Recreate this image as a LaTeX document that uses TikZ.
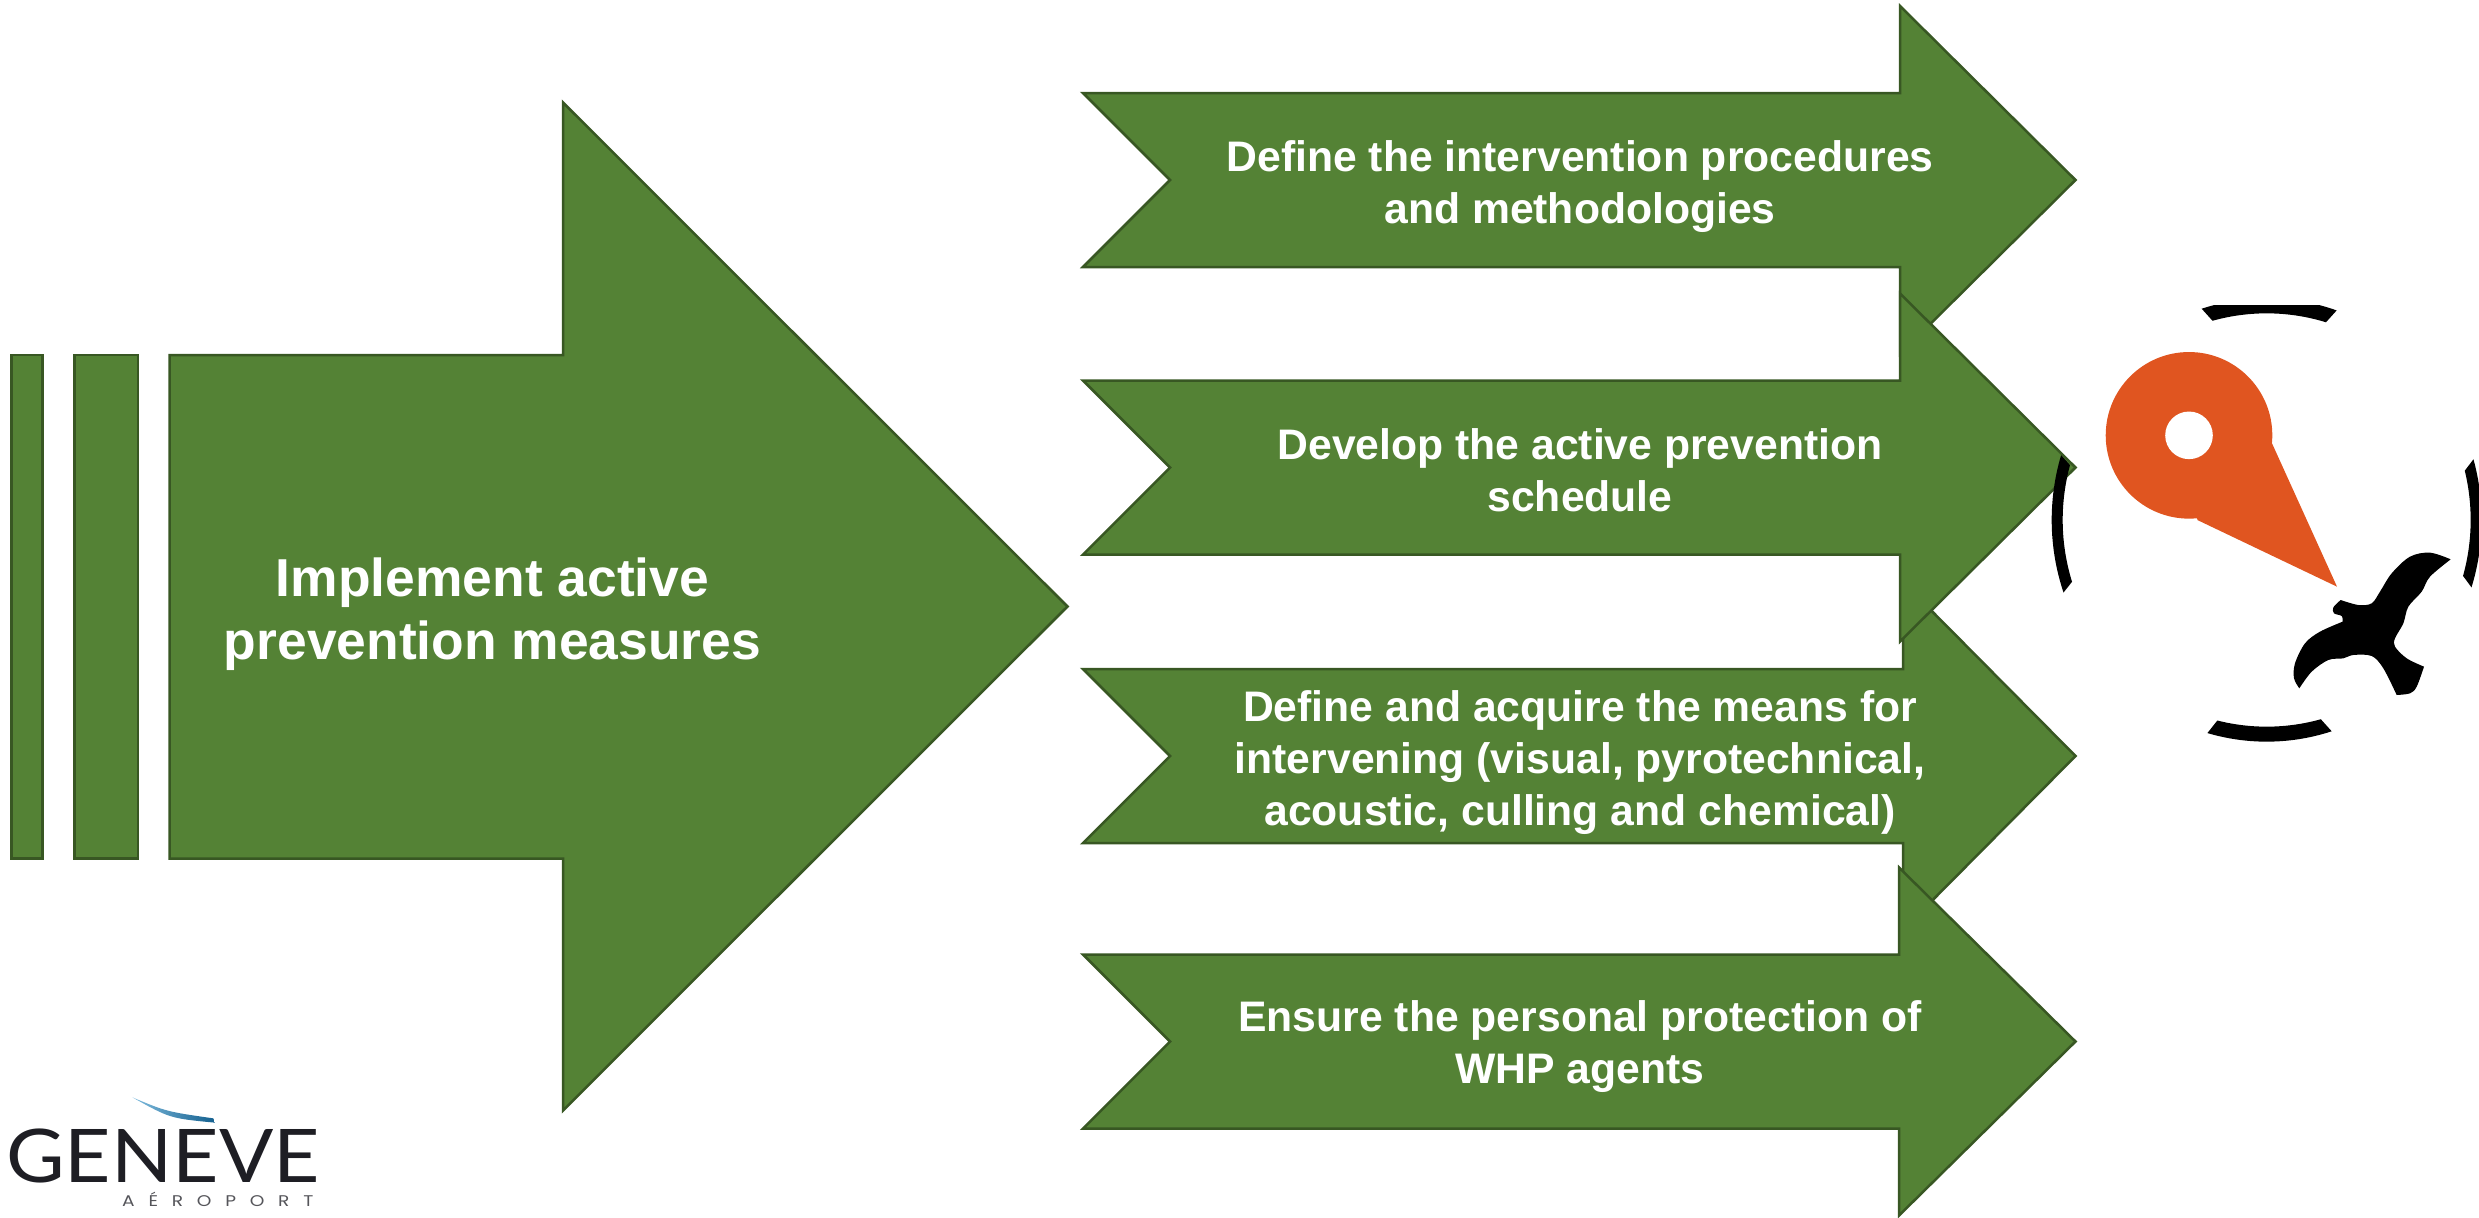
\documentclass[tikz,border=0pt]{standalone}
\usepackage{fontspec}
\setmainfont{Liberation Sans}
\newfontfamily\logofont{Lato}
\newfontfamily\logosmall{Poppins}
\definecolor{arrowgreen}{HTML}{548235}
\definecolor{arrowedge}{HTML}{385723}
\definecolor{pinorange}{HTML}{E05520}
\definecolor{logoink}{HTML}{1E1E24}
\definecolor{logogrey}{HTML}{55555A}
\definecolor{swooshA}{HTML}{7FBBDD}
\definecolor{swooshB}{HTML}{14608F}
\tikzset{
  greenshape/.style={fill=arrowgreen,draw=arrowedge,line width=2.5pt,line join=miter},
  smalllabel/.style={text=white,align=center,font=\fontsize{42.7}{52}\selectfont\bfseries,inner sep=0pt},
  biglabel/.style={text=white,align=center,font=\fontsize{53.4}{63}\selectfont\bfseries,inner sep=0pt},
}
% chevron arrow: #1 = centre y, #2 = head back x
\newcommand{\chevron}[2]{%
  \draw[greenshape] (1083,{#1-87}) -- (#2,{#1-87}) -- (#2,{#1-174}) -- (2075.5,#1) -- (#2,{#1+174}) -- (#2,{#1+87}) -- (1083,{#1+87}) -- (1170,#1) -- cycle;}
\begin{document}
\begin{tikzpicture}[x=1pt,y=-1pt]
\useasboundingbox (0,0) rectangle (2479,1218);
% left bars and big arrow
\draw[greenshape] (11.5,355) rectangle (42.5,858.5);
\draw[greenshape] (74.5,355) rectangle (138,858.5);
\draw[greenshape] (169.5,355) -- (563,355) -- (563,102.5) -- (1067.5,606.5) -- (563,1110.5) -- (563,858.5) -- (169.5,858.5) -- cycle;
\node[biglabel] (main) at (492.5,614) {Implement active\\prevention measures};
% chevrons
\chevron{180}{1900}
\chevron{756}{1903}
\chevron{467.5}{1900}
\chevron{1041.5}{1899}
\node[smalllabel] (a) at (1580,187) {Define the intervention procedures\\and methodologies};
\node[smalllabel] (b) at (1580,470) {Develop the active prevention\\schedule};
\node[smalllabel] (c) at (1580,763) {Define and acquire the means for\\intervening (visual, pyrotechnical,\\acoustic, culling and chemical)};
\node[smalllabel] (d) at (1580,1047) {Ensure the personal protection of\\WHP agents};
% icon, in crop coordinates
\begin{scope}[shift={(2000,280)},x=0.33333pt,y=-0.33333pt]
  \begin{scope}
    \clip (0,75) rectangle (1437,1440);
    \fill plot[domain=252.4:289,samples=30] ({800+645*cos(\x)},{720+665*sin(\x)}) -- plot[domain=286.9:254.6,samples=30] ({800+612*cos(\x)},{720+620*sin(\x)}) -- cycle;
  \end{scope}
  \fill plot[domain=197:160.9,samples=30] ({800+645*cos(\x)},{720+665*sin(\x)}) -- plot[domain=162.6:195.4,samples=30] ({800+612*cos(\x)},{720+620*sin(\x)}) -- cycle;
  \fill plot[domain=-15.9:17.7,samples=30] ({800+645*cos(\x)},{720+665*sin(\x)}) -- plot[domain=15.7:-13.8,samples=30] ({800+612*cos(\x)},{720+620*sin(\x)}) -- cycle;
  \fill plot[domain=106:72.4,samples=30] ({800+645*cos(\x)},{720+665*sin(\x)}) -- plot[domain=74.6:104,samples=30] ({800+612*cos(\x)},{720+620*sin(\x)}) -- cycle;
  \fill[pinorange] (567,466) circle[radius=83.3pt];
  \fill[pinorange] (816,490) -- (1011,920) -- (592,720) -- (567,466) -- cycle;
  \fill[white] (567,466) circle[radius=23.8pt];
  \fill plot[smooth,tension=.55] coordinates {(1352,838) (1290,818) (1230,830) (1175,880) (1140,935) (1115,970) (1075,975) (1022,960)}
    -- plot[smooth,tension=.55] coordinates {(1022,960) (1000,982) (1002,1000) (1025,1008) (1028,1025)}
    -- plot[smooth,tension=.55] coordinates {(1028,1025) (960,1055) (915,1090) (885,1150) (882,1195) (898,1225)}
    -- plot[smooth,tension=.55] coordinates {(898,1225) (935,1175) (985,1140) (1030,1135) (1060,1125) (1115,1128) (1150,1165) (1190,1245)}
    -- plot[smooth,tension=.55] coordinates {(1190,1245) (1230,1240) (1250,1220) (1272,1160)}
    -- plot[smooth,tension=.55] coordinates {(1272,1160) (1220,1135) (1185,1100) (1185,1075) (1210,1030) (1225,980) (1265,935) (1290,890) (1352,838)} -- cycle;
\end{scope}
% logo
\begin{scope}[shift={(0,1070)},x=0.33333pt,y=-0.33333pt]
  \shade[left color=swooshA,right color=swooshB] (397,82) .. controls (500,125) .. (640,145) -- (645,158) .. controls (510,145) .. cycle;
\end{scope}
\node[inner sep=0pt,anchor=base west,text=logoink,font=\logofont\fontsize{74}{74}\selectfont,xscale=1.085] (geneve) at (6,1182) {GENEVE};
\node[inner sep=0pt,anchor=base west,text=logogrey,font=\logosmall\fontsize{15.5}{16}\selectfont\addfontfeature{LetterSpace=74},xscale=1.2] (aeroport) at (122,1206) {AÉROPORT};
\end{tikzpicture}
\end{document}
